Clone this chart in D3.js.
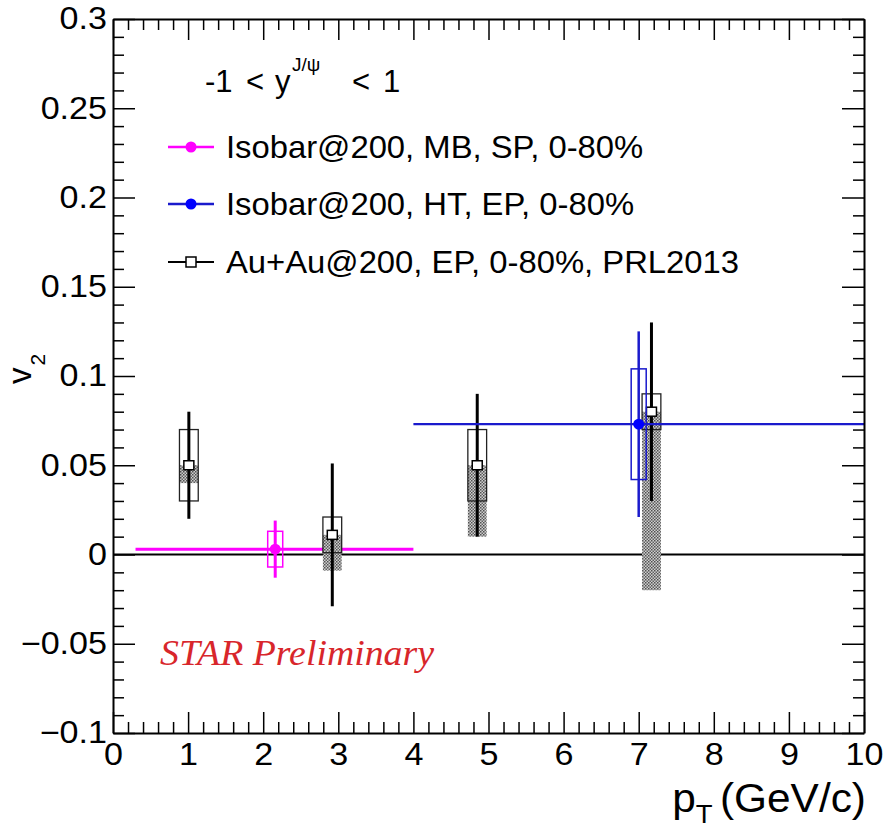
<!DOCTYPE html>
<html>
<head>
<meta charset="utf-8">
<script src="https://cdn.jsdelivr.net/npm/d3@7"></script>
<style>
  html, body { margin: 0; padding: 0; background: #fff; }
  svg { display: block; }
  text { font-family: "Liberation Sans", Arial, Helvetica, sans-serif; }
</style>
</head>
<body>
<svg id="chart" width="885" height="832"></svg>
<script>
// ---------------- data ----------------
const xMajorTicks = [0, 1, 2, 3, 4, 5, 6, 7, 8, 9, 10];
const xTickLabels = ["0", "1", "2", "3", "4", "5", "6", "7", "8", "9", "10"];
const yMajorTicks = [-0.1, -0.05, 0, 0.05, 0.1, 0.15, 0.2, 0.25, 0.3];
const yTickLabels = ["\u22120.1", "\u22120.05", "0", "0.05", "0.1", "0.15", "0.2", "0.25", "0.3"];

// Au+Au@200, EP, 0-80%, PRL2013
const auPt      = [1.01, 2.92, 4.85, 7.17];
const auV2      = [0.050, 0.011, 0.050, 0.080];
const auStat    = [0.030, 0.040, 0.040, 0.050];
const auSys     = [0.020, 0.010, 0.020, 0.010];
const auNonflow = [0.010, 0.020, 0.040, 0.100];   // one-sided (downward)

// Isobar@200, MB, SP, 0-80%
const mbPt   = [2.16];
const mbV2   = [0.003];
const mbXlo  = [0.3];
const mbXhi  = [4.0];
const mbStat = [0.016];
const mbSys  = [0.010];

// Isobar@200, HT, EP, 0-80%
const htPt   = [7.0];
const htV2   = [0.073];
const htXlo  = [4.0];
const htXhi  = [10.0];
const htStat = [0.052];
const htSys  = [0.031];

const legendLabels = ["Isobar@200, MB, SP, 0-80%", "Isobar@200, HT, EP, 0-80%", "Au+Au@200, EP, 0-80%, PRL2013"];

// ---------------- setup ----------------
const svg = d3.select("#chart");
const L = 113, R = 864, T = 19, B = 733;
const x = d3.scaleLinear().domain([0, 10]).range([L, R]);
const y = d3.scaleLinear().domain([-0.1, 0.3]).range([B, T]);

const MAGENTA = "#ff00ff", BLUE = "#1a1acc", BLUEPT = "#0000ff";
const SANS = "'Liberation Sans', Arial, Helvetica, sans-serif";

function stretch(sel, sx) {
  sel.each(function () {
    const t = d3.select(this);
    const tx = +(t.attr("x") || 0), ty = +(t.attr("y") || 0);
    t.attr("transform", `translate(${tx},${ty}) scale(${sx},1) translate(${-tx},${-ty})`);
  });
}

// hatch pattern (ROOT-like dotted fill)
const defs = svg.append("defs");
const pat = defs.append("pattern").attr("id", "hatch").attr("patternUnits", "userSpaceOnUse")
  .attr("width", 3).attr("height", 3);
pat.append("rect").attr("width", 3).attr("height", 3).attr("fill", "#cfcfcf");
pat.append("rect").attr("x", 0).attr("y", 0).attr("width", 1.5).attr("height", 1.5).attr("fill", "#505050");
pat.append("rect").attr("x", 1.5).attr("y", 1.5).attr("width", 1.5).attr("height", 1.5).attr("fill", "#606060");

// ---------------- zero line ----------------
svg.append("line").attr("x1", x(0)).attr("x2", x(10)).attr("y1", y(0)).attr("y2", y(0))
  .attr("stroke", "#000").attr("stroke-width", 2);

// ---------------- Isobar MB (magenta) ----------------
const mb = svg.append("g");
mbPt.forEach((p, i) => {
  mb.append("line").attr("x1", x(mbXlo[i])).attr("x2", x(mbXhi[i])).attr("y1", y(mbV2[i])).attr("y2", y(mbV2[i]))
    .attr("stroke", MAGENTA).attr("stroke-width", 3);
  mb.append("rect").attr("x", x(p - 0.1)).attr("width", x(p + 0.1) - x(p - 0.1))
    .attr("y", y(mbV2[i] + mbSys[i])).attr("height", y(mbV2[i] - mbSys[i]) - y(mbV2[i] + mbSys[i]))
    .attr("fill", "none").attr("stroke", MAGENTA).attr("stroke-width", 1.5);
  mb.append("line").attr("x1", x(p)).attr("x2", x(p)).attr("y1", y(mbV2[i] + mbStat[i])).attr("y2", y(mbV2[i] - mbStat[i]))
    .attr("stroke", MAGENTA).attr("stroke-width", 3);
  mb.append("circle").attr("cx", x(p)).attr("cy", y(mbV2[i])).attr("r", 5.5).attr("fill", MAGENTA);
});

// ---------------- Au+Au (black) ----------------
const au = svg.append("g");
const bw = 0.125;
auPt.forEach((p, i) => {
  au.append("rect").attr("x", x(p - bw)).attr("width", x(p + bw) - x(p - bw))
    .attr("y", y(auV2[i])).attr("height", y(auV2[i] - auNonflow[i]) - y(auV2[i]))
    .attr("fill", "url(#hatch)");
  au.append("rect").attr("x", x(p - bw)).attr("width", x(p + bw) - x(p - bw))
    .attr("y", y(auV2[i] + auSys[i])).attr("height", y(auV2[i] - auSys[i]) - y(auV2[i] + auSys[i]))
    .attr("fill", "none").attr("stroke", "#222").attr("stroke-width", 1.3);
  au.append("line").attr("x1", x(p)).attr("x2", x(p)).attr("y1", y(auV2[i] + auStat[i])).attr("y2", y(auV2[i] - auStat[i]))
    .attr("stroke", "#000").attr("stroke-width", 3);
  au.append("rect").attr("x", x(p) - 5).attr("y", y(auV2[i]) - 4.5).attr("width", 10).attr("height", 9)
    .attr("fill", "#fff").attr("stroke", "#000").attr("stroke-width", 1.5);
});

// ---------------- Isobar HT (blue) ----------------
const ht = svg.append("g");
htPt.forEach((p, i) => {
  ht.append("line").attr("x1", x(htXlo[i])).attr("x2", x(htXhi[i])).attr("y1", y(htV2[i])).attr("y2", y(htV2[i]))
    .attr("stroke", BLUE).attr("stroke-width", 2.2);
  ht.append("rect").attr("x", x(p - 0.1)).attr("width", x(p + 0.1) - x(p - 0.1))
    .attr("y", y(htV2[i] + htSys[i])).attr("height", y(htV2[i] - htSys[i]) - y(htV2[i] + htSys[i]))
    .attr("fill", "none").attr("stroke", BLUE).attr("stroke-width", 1.5);
  ht.append("line").attr("x1", x(p)).attr("x2", x(p)).attr("y1", y(htV2[i] + htStat[i])).attr("y2", y(htV2[i] - htStat[i]))
    .attr("stroke", BLUE).attr("stroke-width", 2.5);
  ht.append("circle").attr("cx", x(p)).attr("cy", y(htV2[i])).attr("r", 5.5).attr("fill", BLUEPT);
});

// ---------------- axes ----------------
const xMinor = d3.range(0, 10.001, 0.2).filter(v => Math.abs(v - Math.round(v)) > 1e-6);
const yMinor = d3.range(-0.1, 0.3001, 0.01).filter(v => Math.abs(v / 0.05 - Math.round(v / 0.05)) > 1e-6);

function styleAxis(g, hideDomain) {
  g.selectAll(".tick line").attr("stroke", "#000").attr("stroke-width", 1.5);
  g.select(".domain").attr("stroke", "#000").attr("stroke-width", 2);
  if (hideDomain) g.select(".domain").remove();
}

const gxB = svg.append("g").attr("transform", `translate(0,${B})`)
  .call(d3.axisBottom(x).tickValues(xMajorTicks).tickSize(-21).tickSizeOuter(0).tickPadding(10)
    .tickFormat((d, i) => xTickLabels[i]));
styleAxis(gxB);
gxB.selectAll("text").attr("font-size", 31).attr("fill", "#000").style("font-family", SANS);
stretch(gxB.selectAll("text"), 1.1);
svg.append("g").attr("transform", `translate(0,${B})`)
  .call(d3.axisBottom(x).tickValues(xMinor).tickSize(-11).tickSizeOuter(0).tickFormat(""))
  .call(g => styleAxis(g, true));

const gxT = svg.append("g").attr("transform", `translate(0,${T})`)
  .call(d3.axisTop(x).tickValues(xMajorTicks).tickSize(-21).tickSizeOuter(0).tickFormat(""));
styleAxis(gxT);
svg.append("g").attr("transform", `translate(0,${T})`)
  .call(d3.axisTop(x).tickValues(xMinor).tickSize(-11).tickSizeOuter(0).tickFormat(""))
  .call(g => styleAxis(g, true));

const gyL = svg.append("g").attr("transform", `translate(${L},0)`)
  .call(d3.axisLeft(y).tickValues(yMajorTicks).tickSize(-22).tickSizeOuter(0).tickPadding(6)
    .tickFormat((d, i) => yTickLabels[i]));
styleAxis(gyL);
gyL.selectAll("text").attr("font-size", 31).attr("fill", "#000").style("font-family", SANS);
stretch(gyL.selectAll("text"), 1.1);
svg.append("g").attr("transform", `translate(${L},0)`)
  .call(d3.axisLeft(y).tickValues(yMinor).tickSize(-11).tickSizeOuter(0).tickFormat(""))
  .call(g => styleAxis(g, true));

const gyR = svg.append("g").attr("transform", `translate(${R},0)`)
  .call(d3.axisRight(y).tickValues(yMajorTicks).tickSize(-22).tickSizeOuter(0).tickFormat(""));
styleAxis(gyR);
svg.append("g").attr("transform", `translate(${R},0)`)
  .call(d3.axisRight(y).tickValues(yMinor).tickSize(-11).tickSizeOuter(0).tickFormat(""))
  .call(g => styleAxis(g, true));

// ---------------- axis titles ----------------
const xt = svg.append("text").attr("x", 866).attr("y", 812).attr("text-anchor", "end")
  .attr("font-size", 40).attr("fill", "#000");
xt.append("tspan").text("p");
xt.append("tspan").attr("font-size", 26).attr("dy", 11).text("T");
xt.append("tspan").attr("dy", -11).attr("dx", 7).text("(GeV/c)");
stretch(xt, 1.06);

const yt = svg.append("text").attr("transform", "translate(31,384) rotate(-90)")
  .attr("font-size", 33).attr("fill", "#000");
yt.append("tspan").text("v");
yt.append("tspan").attr("font-size", 21).attr("dy", 14).attr("dx", 2).text("2");

// ---------------- legend ----------------
const title = svg.append("text").attr("y", 92).attr("font-size", 31).attr("fill", "#000");
title.append("tspan").attr("x", 205).text("-1");
title.append("tspan").attr("x", 246).text("<");
title.append("tspan").attr("x", 275).text("y");
title.append("tspan").attr("x", 292).attr("font-size", 19).attr("dy", -21).text("J/\u03c8");
title.append("tspan").attr("x", 352).attr("dy", 21).text("<");
title.append("tspan").attr("x", 383).text("1");

const legY = [147, 204, 262];
const legColors = [MAGENTA, BLUE, "#000"];
legendLabels.forEach((lab, i) => {
  svg.append("line").attr("x1", 168).attr("x2", 214).attr("y1", legY[i]).attr("y2", legY[i])
    .attr("stroke", legColors[i]).attr("stroke-width", i === 2 ? 2 : 2.5);
  if (i < 2) {
    svg.append("circle").attr("cx", 191).attr("cy", legY[i]).attr("r", 5.5).attr("fill", i === 0 ? MAGENTA : BLUEPT);
  } else {
    svg.append("rect").attr("x", 186).attr("y", legY[i] - 5).attr("width", 10).attr("height", 10)
      .attr("fill", "#fff").attr("stroke", "#000").attr("stroke-width", 1.5);
  }
  const t = svg.append("text").attr("x", 226).attr("y", legY[i] + 11).attr("font-size", 32)
    .attr("fill", "#000").text(lab);
  stretch(t, 1.025);
});

// ---------------- STAR Preliminary ----------------
const star = svg.append("text").attr("x", 160).attr("y", 665)
  .style("font-family", "'Liberation Serif', 'Times New Roman', Times, serif").style("font-style", "italic")
  .attr("font-size", 36).attr("fill", "#d8262b").text("STAR Preliminary");
stretch(star, 1.05);
</script>
</body>
</html>
